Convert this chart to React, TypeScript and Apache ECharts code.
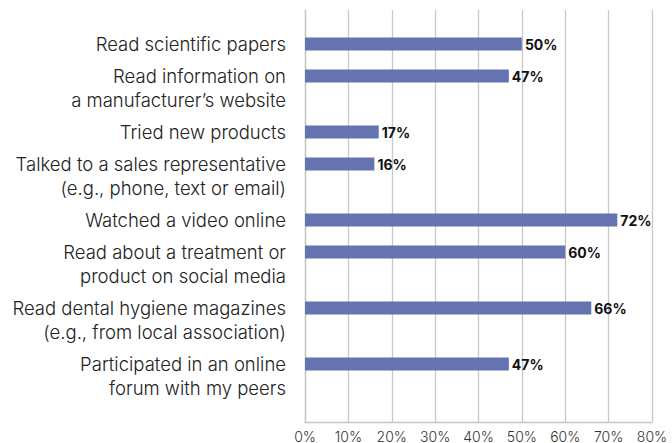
import React, { useEffect, useRef } from "react";
import * as echarts from "echarts";

const categories: string[] = [
  "Read scientific papers",
  "Read information on\na manufacturer’s website",
  "Tried new products",
  "Talked to a sales representative\n(e.g., phone, text or email)",
  "Watched a video online",
  "Read about a treatment or\nproduct on social media",
  "Read dental hygiene magazines\n(e.g., from local association)",
  "Participated in an online\nforum with my peers",
];
const values: number[] = [50, 47, 17, 16, 72, 60, 66, 47];
const xMin = 0;
const xMax = 80;
const xStep = 10;

// Layout: rows are spaced by the number of label lines (fine-grained slots)
const SLOT_LEAD = 8;
const SLOT_TOTAL = 103;
function slotAdvance(label: string) {
  const lines = label.split("\n").length;
  return lines * 6 + 2;
}

export default function App() {
  const ref = useRef<HTMLDivElement>(null);
  useEffect(() => {
    if (!ref.current) return;
    const chart = echarts.init(ref.current, null, { renderer: "svg" });

    const slotLabels: string[] = new Array(SLOT_TOTAL).fill("");
    const slotValues: (number | string)[] = new Array(SLOT_TOTAL).fill("-");
    let s = SLOT_LEAD;
    categories.forEach((c, i) => {
      slotLabels[s] = c;
      slotValues[s] = values[i];
      s += slotAdvance(c);
    });

    const font = "Inter, 'Liberation Sans', Arial, sans-serif";
    chart.setOption({
      animation: false,
      textStyle: { fontFamily: font },
      grid: { left: 305, right: 20, top: 10, bottom: 19, containLabel: false },
      xAxis: {
        type: "value",
        min: xMin,
        max: xMax,
        interval: xStep,
        axisLine: { show: true, lineStyle: { color: "#c4c4c4", width: 1.3 } },
        axisTick: { show: false },
        splitLine: { show: true, lineStyle: { color: "#c8c8c8", width: 1.3 } },
        axisLabel: {
          formatter: "{value}%",
          color: "#333",
          fontSize: 14,
          fontWeight: 300,
          margin: 7,
          fontFamily: font,
        },
      },
      yAxis: {
        type: "category",
        inverse: true,
        data: slotLabels,
        axisLine: { show: true, lineStyle: { color: "#c4c4c4", width: 1.3 } },
        axisTick: { show: false },
        splitLine: { show: false },
        axisLabel: {
          interval: 0,
          color: "#222",
          fontSize: 18.5,
          fontWeight: 300,
          lineHeight: 24,
          margin: 19,
          fontFamily: font,
          formatter: (v: string) => (v.includes("\n") ? "\n" + v : v),
        },
      },
      series: [
        {
          type: "bar",
          data: slotValues,
          barWidth: 13,
          itemStyle: { color: "#6474b0" },
          label: {
            show: true,
            position: "right",
            distance: 3,
            formatter: "{c}%",
            color: "#111",
            fontWeight: "bold",
            fontSize: 14,
            fontFamily: font,
          },
        },
      ],
    });
    return () => chart.dispose();
  }, []);
  return (
    <div
      ref={ref}
      style={{ position: "fixed", left: 0, top: 0, width: 672, height: 443, background: "#fff" }}
    />
  );
}
